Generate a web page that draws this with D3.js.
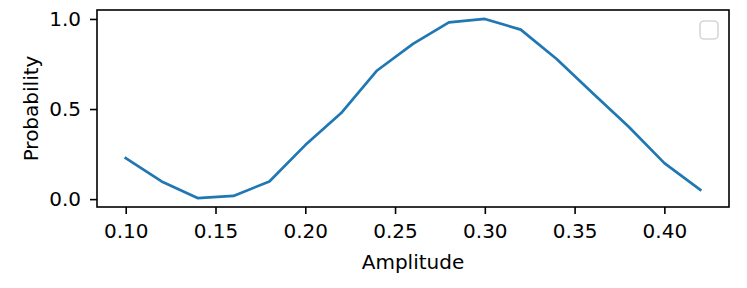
<!DOCTYPE html>
<html>
<head>
<meta charset="utf-8">
<script src="https://cdn.jsdelivr.net/npm/d3@7"></script>
<style>
  body { margin: 0; background: #fff; }
  svg { display: block; }
</style>
</head>
<body>
<div id="chart"></div>
<script>
// data
const amplitude = [0.10, 0.12, 0.14, 0.16, 0.18, 0.20, 0.22, 0.24, 0.26, 0.28,
  0.30, 0.32, 0.34, 0.36, 0.38, 0.40, 0.42];
const probability = [0.228, 0.098, 0.006, 0.018, 0.098, 0.30, 0.478, 0.714, 0.862,
  0.981, 1.0, 0.941, 0.778, 0.589, 0.403, 0.20, 0.052];
const xTicks = [0.10, 0.15, 0.20, 0.25, 0.30, 0.35, 0.40];
const yTicks = [0.0, 0.5, 1.0];

const width = 747;
const height = 288;
const margin = { top: 10, right: 18, bottom: 81, left: 97 };
const font = "DejaVu Sans, sans-serif";

const svg = d3.select("#chart")
  .append("svg")
  .attr("width", width)
  .attr("height", height);

const data = amplitude.map((a, i) => ({ x: a, y: probability[i] }));

// matplotlib style 5% margins
function padded(ext) {
  const pad = (ext[1] - ext[0]) * 0.05;
  return [ext[0] - pad, ext[1] + pad];
}

const scaleX = d3.scaleLinear()
  .domain(padded(d3.extent(amplitude)))
  .range([margin.left, width - margin.right]);

const scaleY = d3.scaleLinear()
  .domain(padded(d3.extent(probability)))
  .range([height - margin.bottom, margin.top]);

const g = svg.append("g");

// x axis
const axisX = g.append("g")
  .attr("transform", "translate(0," + (height - margin.bottom) + ")")
  .call(d3.axisBottom(scaleX)
    .tickValues(xTicks)
    .tickFormat(d3.format(".2f"))
    .tickSize(7)
    .tickPadding(10));

// y axis
const axisY = g.append("g")
  .attr("transform", "translate(" + margin.left + ",0)")
  .call(d3.axisLeft(scaleY)
    .tickValues(yTicks)
    .tickFormat(d3.format(".1f"))
    .tickSize(7)
    .tickPadding(9));

[axisX, axisY].forEach((a) => {
  a.select(".domain").remove();
  a.selectAll(".tick line").attr("stroke", "#000").attr("stroke-width", 1.6);
  a.selectAll(".tick text")
    .attr("fill", "#000")
    .style("font-size", "20px")
    .style("font-family", font);
});

// line
const line = d3.line()
  .x((d) => scaleX(d.x))
  .y((d) => scaleY(d.y));

g.append("path")
  .datum(data)
  .attr("fill", "none")
  .attr("stroke", "#1f77b4")
  .attr("stroke-width", 2.7)
  .attr("stroke-linejoin", "round")
  .attr("stroke-linecap", "square")
  .attr("d", line);

// frame
g.append("rect")
  .attr("x", margin.left)
  .attr("y", margin.top)
  .attr("width", width - margin.left - margin.right)
  .attr("height", height - margin.top - margin.bottom)
  .attr("fill", "none")
  .attr("stroke", "#000")
  .attr("stroke-width", 1.6);

// empty legend box
g.append("rect")
  .attr("x", width - margin.right - 29)
  .attr("y", margin.top + 11)
  .attr("width", 18)
  .attr("height", 18)
  .attr("rx", 4)
  .attr("fill", "#fff")
  .attr("stroke", "#d6d6d6")
  .attr("stroke-width", 1.6);

// axis labels
g.append("text")
  .attr("x", (margin.left + width - margin.right) / 2)
  .attr("y", 269)
  .attr("text-anchor", "middle")
  .style("font-size", "20px")
  .style("font-family", font)
  .text("Amplitude");

const midY = (margin.top + height - margin.bottom) / 2;
g.append("text")
  .attr("transform", "translate(38," + midY + ") rotate(-90)")
  .attr("text-anchor", "middle")
  .style("font-size", "20px")
  .style("font-family", font)
  .text("Probability");
</script>
</body>
</html>
